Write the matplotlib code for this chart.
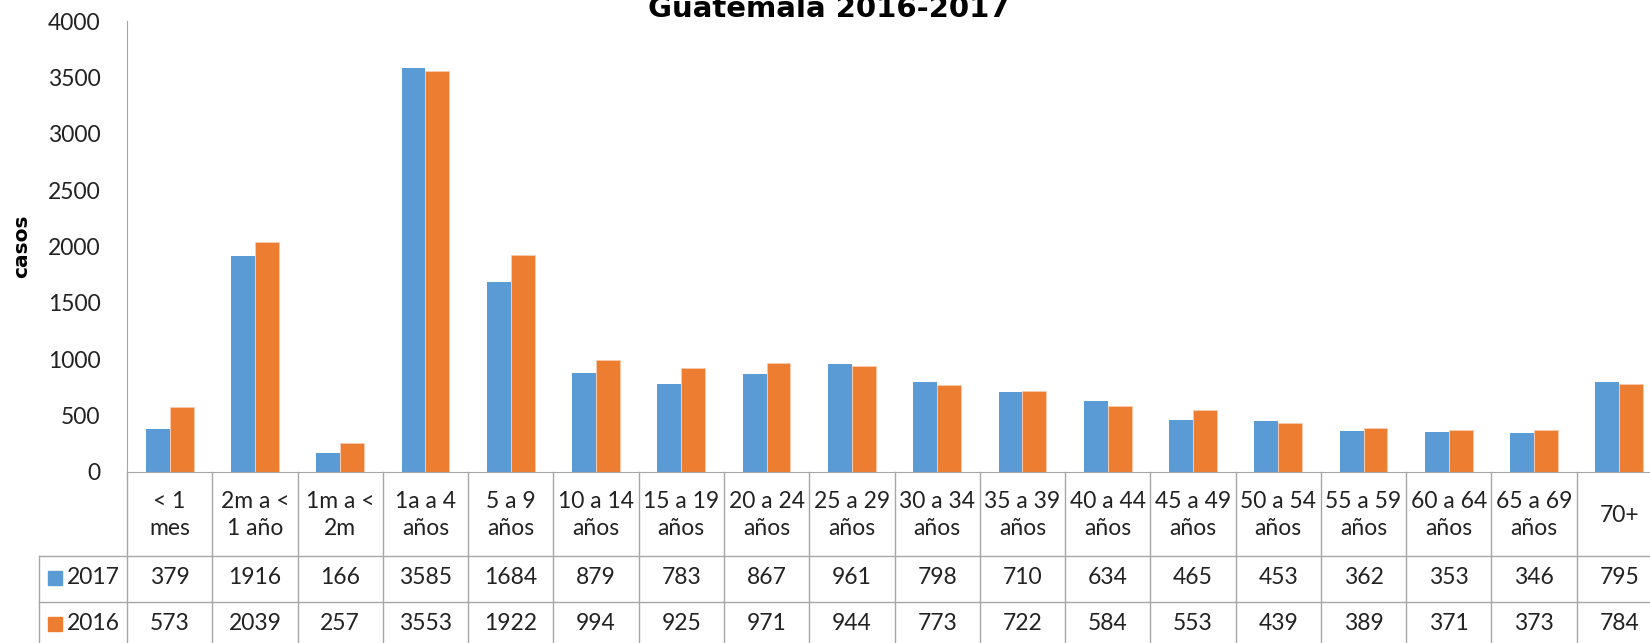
import matplotlib
matplotlib.use("Agg")
import matplotlib.pyplot as plt
import matplotlib.transforms as mtransforms
import numpy as np

plt.rcParams['font.family'] = ['Lato', 'DejaVu Sans']

categories = ["< 1\nmes", "2m a <\n1 año", "1m a <\n2m", "1a a 4\naños", "5 a 9\naños",
              "10 a 14\naños", "15 a 19\naños", "20 a 24\naños", "25 a 29\naños",
              "30 a 34\naños", "35 a 39\naños", "40 a 44\naños", "45 a 49\naños",
              "50 a 54\naños", "55 a 59\naños", "60 a 64\naños", "65 a 69\naños", "70+"]
casos_2017 = [379, 1916, 166, 3585, 1684, 879, 783, 867, 961, 798, 710, 634, 465, 453, 362, 353, 346, 795]
casos_2016 = [573, 2039, 257, 3553, 1922, 994, 925, 971, 944, 773, 722, 584, 553, 439, 389, 371, 373, 784]
series_names = ["2017", "2016"]

blue = "#5B9BD5"
orange = "#ED7D31"
grid_col = "#A6A6A6"

W, H = 1650, 643
fig = plt.figure(figsize=(W / 100, H / 100), dpi=100)

def fy(py):
    # pixel from top -> figure fraction
    return 1 - py / H

ax_left, ax_right = 127, 1662
ax_top, ax_bot = 21, 472
ax = fig.add_axes([ax_left / W, fy(ax_bot), (ax_right - ax_left) / W, (ax_bot - ax_top) / H])

x = np.arange(len(categories))
bw = 0.28
ax.bar(x - bw / 2, casos_2017, bw, color=blue)
ax.bar(x + bw / 2, casos_2016, bw, color=orange, edgecolor="#F8CBAD", linewidth=0.6)

ax.set_xlim(-0.5, len(categories) - 0.5)
ax.set_ylim(0, 4000)
ax.set_yticks(np.arange(0, 4001, 500))
ax.set_xticks([])
ax.tick_params(axis='y', length=0, pad=19, labelsize=16.5, labelcolor="#222222")
for s in ["top", "right"]:
    ax.spines[s].set_visible(False)
ax.spines["left"].set_color(grid_col)
ax.spines["bottom"].set_color(grid_col)
ax.set_ylabel("casos", fontsize=14.5, fontweight="bold", family="DejaVu Sans", labelpad=12)

fig.text(829 / W, fy(17), "Guatemala 2016-2017", ha="center", va="baseline",
         fontsize=21, fontweight="bold", family="DejaVu Sans")

# data table below the axis
tr = mtransforms.blended_transform_factory(ax.transData, fig.transFigure)
col_w = (ax_right - ax_left) / len(categories)
x_lab = -0.5 - (ax_left - 39) / col_w
rows_y = [472, 556, 602, 648]

for i in range(len(categories) + 1):
    xb = i - 0.5
    ax.plot([xb, xb], [fy(rows_y[0]), fy(rows_y[-1])], transform=tr, color=grid_col,
            lw=1, clip_on=False)
ax.plot([x_lab, x_lab], [fy(rows_y[1]), fy(rows_y[-1])], transform=tr, color=grid_col,
        lw=1, clip_on=False)
for yy in rows_y[1:]:
    ax.plot([x_lab, len(categories) - 0.5], [fy(yy), fy(yy)], transform=tr, color=grid_col,
            lw=1, clip_on=False)

for i, lab in enumerate(categories):
    ax.text(i, fy((rows_y[0] + rows_y[1]) / 2 + 1), lab, transform=tr, ha="center", va="center",
            fontsize=16.5, linespacing=1.3, color="#222222")

for r, (name, vals, col) in enumerate(zip(series_names, [casos_2017, casos_2016], [blue, orange])):
    yc = (rows_y[r + 1] + rows_y[r + 2]) / 2 - 1
    for i, v in enumerate(vals):
        ax.text(i, fy(yc), str(v), transform=tr, ha="center", va="center",
                fontsize=16.5, color="#222222")
    fig.patches.append(plt.Rectangle((48 / W, fy(yc + 7)), 14 / W, 14 / H,
                                     transform=fig.transFigure, color=col))
    fig.text(67 / W, fy(yc), name, ha="left", va="center", fontsize=16.5, color="#222222")

fig.savefig("out.png", dpi=100)
